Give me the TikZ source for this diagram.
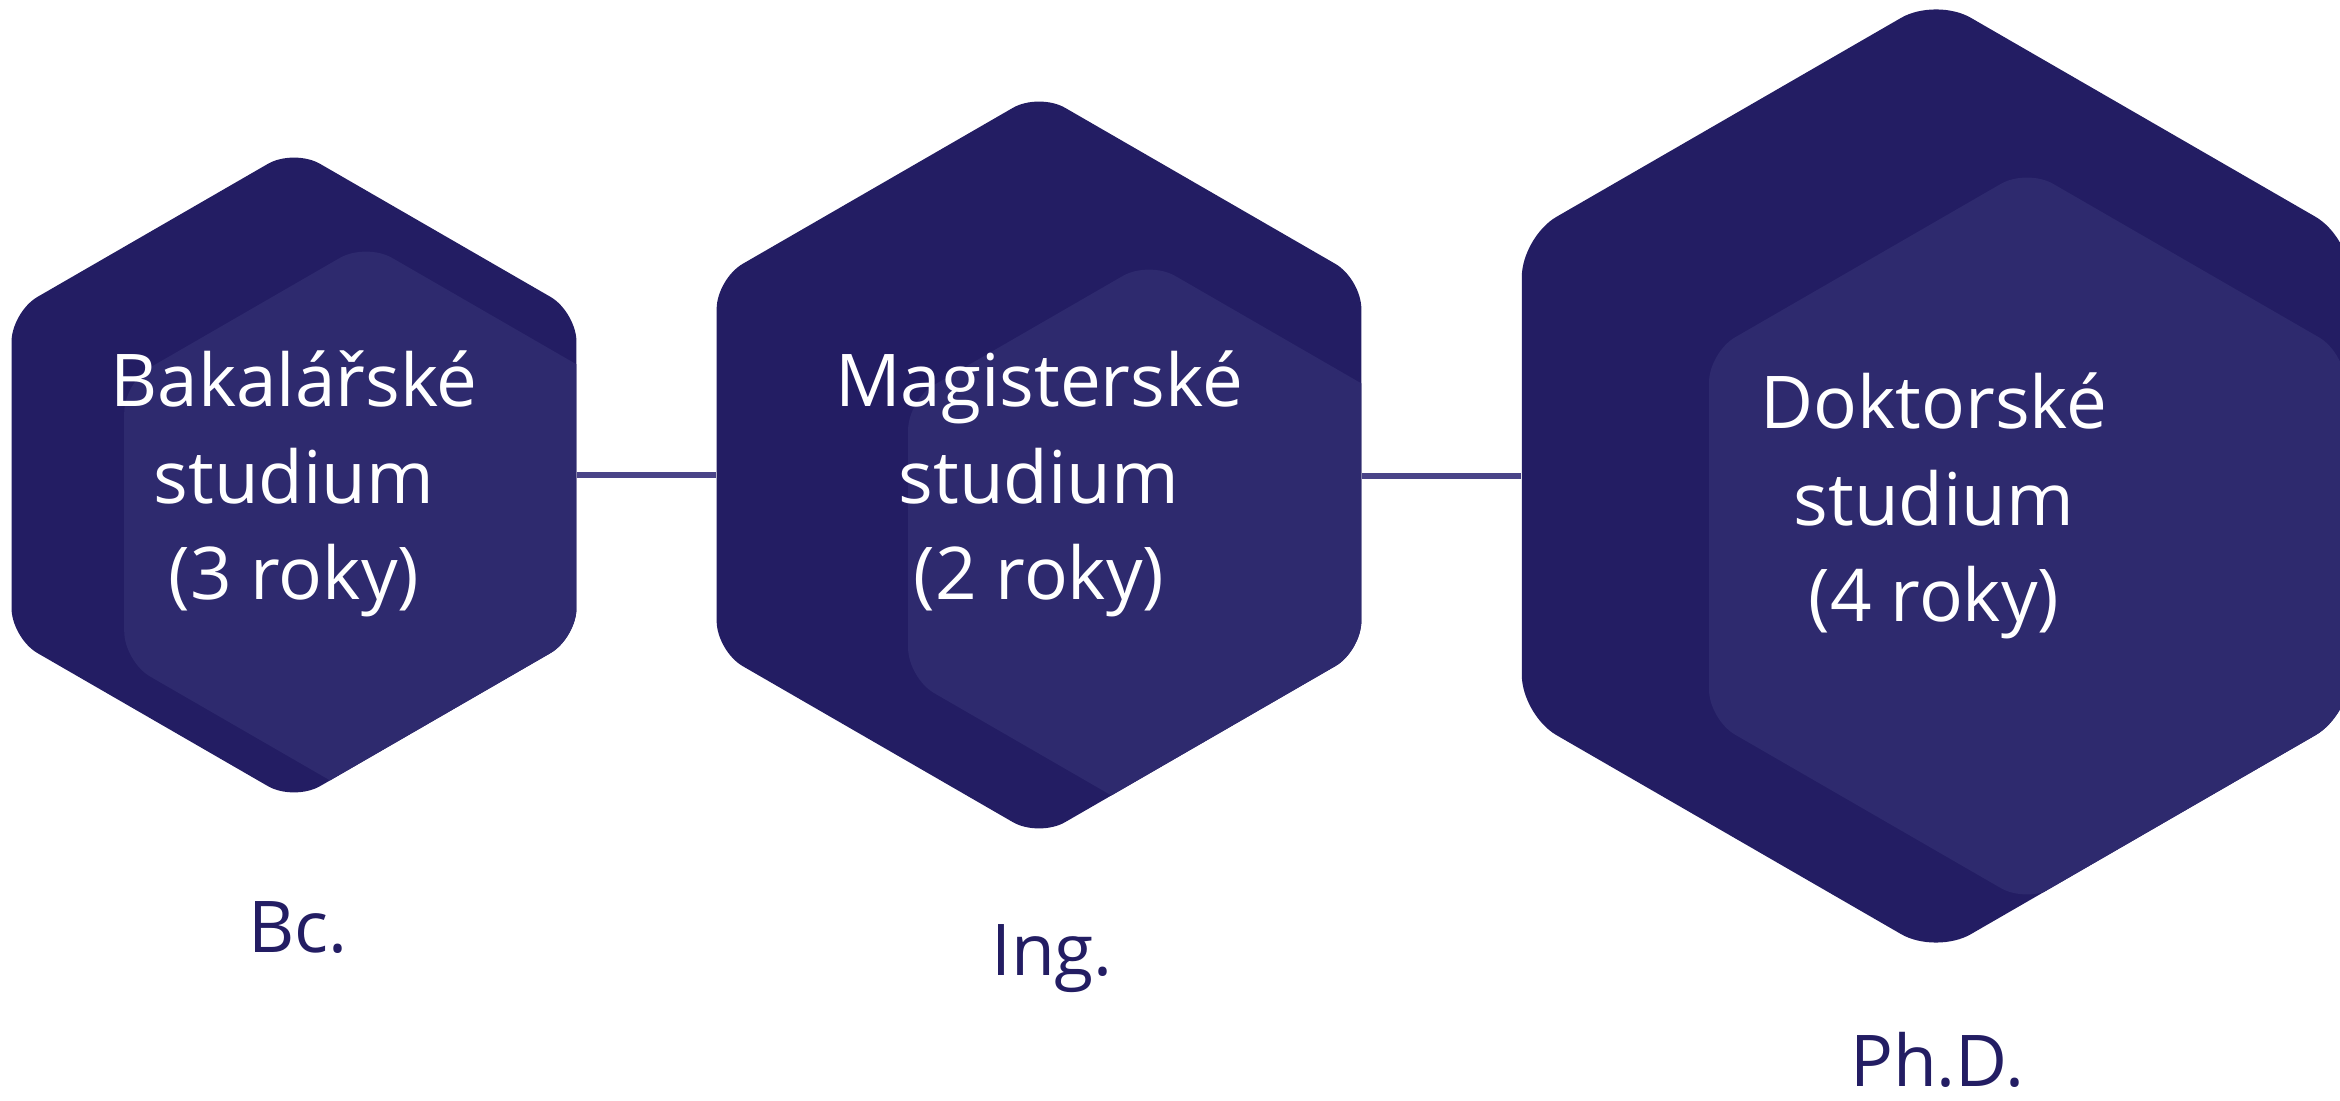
\documentclass[tikz,border=0pt]{standalone}
\usepackage{fontspec}
\setmainfont{Open Sans}
\usetikzlibrary{shapes.geometric, calc}
\definecolor{hexDark}{HTML}{231D63}
\definecolor{hexLight}{HTML}{2E2A6E}
\definecolor{lineColor}{HTML}{4A4488}
\tikzstyle{hexagon} = [regular polygon, regular polygon sides=6, shape border rotate=30, inner sep=0pt, fill=hexDark, rounded corners=0.3cm]
\tikzstyle{title} = [text=white, align=center, font=\fontsize{20.7}{27.5}\selectfont]
\tikzstyle{degree} = [text=hexDark, anchor=base, font=\fontsize{20.3}{24}\selectfont]
\tikzstyle{link} = [draw=lineColor, line width=0.06cm]
\tikzset{core/.style n args={3}{path picture={
    \node [hexagon, fill=hexLight, minimum size=#3] at ($(path picture bounding box.center)+(#1,#2)$) {};}}}

\begin{document}
\begin{tikzpicture}[x=0.01cm, y=-0.01cm]
    \useasboundingbox (0,0) rectangle (2340,1101);

    % Hexagons
    \node (bachelor) [hexagon, minimum size=6.52cm, core={72}{47}{5.58cm}] at (294,475) {};
    \node (master) [hexagon, minimum size=7.44cm, core={110}{74}{5.56cm}] at (1039,465) {};
    \node (doctor) [hexagon, minimum size=9.56cm, rounded corners=0.4cm, core={91}{60}{7.34cm}] at (1936,476) {};

    % Lines
    \draw [link] (bachelor.east) -- (bachelor.east -| master.west);
    \draw [link] (doctor.west -| master.east) -- (doctor.west);

    % Texts
    \node (bachelorText) [title] at (294,484) {Bakalářské\\studium\\(3 roky)};
    \node (masterText) [title] at (1039,484) {Magisterské\\studium\\(2 roky)};
    \node (doctorText) [title] at (1934,506) {Doktorské\\studium\\(4 roky)};

    \node (bachelorDegree) [degree] at (298,952) {Bc.};
    \node (masterDegree) [degree] at (1052,975) {Ing.};
    \node (doctorDegree) [degree] at (1937,1086) {Ph.D.};

\end{tikzpicture}
\end{document}
